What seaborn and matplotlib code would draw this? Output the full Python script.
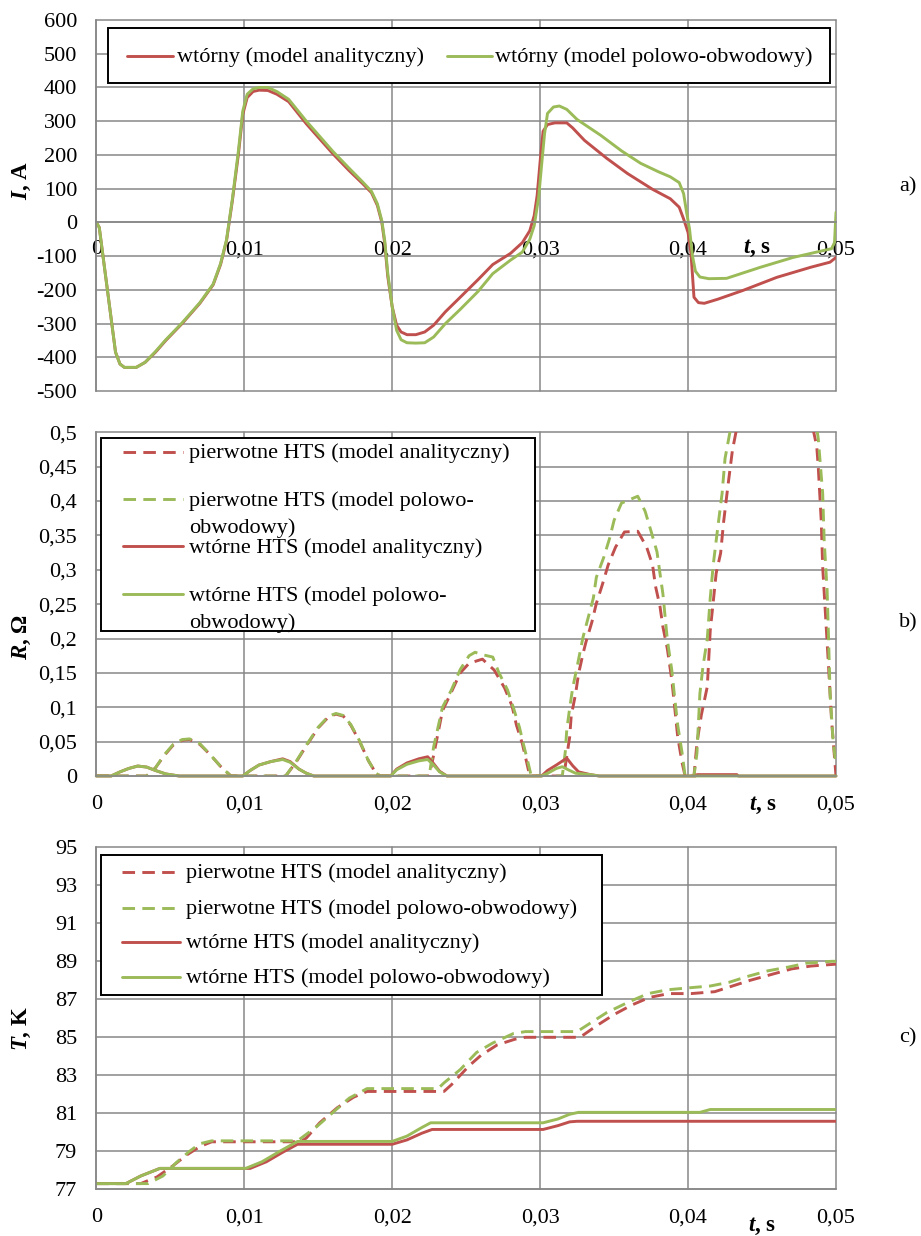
import matplotlib
matplotlib.use("Agg")
import matplotlib.pyplot as plt
from matplotlib.lines import Line2D
from matplotlib.patches import Rectangle
from matplotlib.transforms import Affine2D
import pandas as pd
import seaborn as sns

RED = "#C0504D"
GREEN = "#9BBB59"
GRID = "#878787"

# ---------------------------------------------------------------- axes ticks
t_ticks = [0, 0.01, 0.02, 0.03, 0.04, 0.05]
t_tick_labels = ["0", "0,01", "0,02", "0,03", "0,04", "0,05"]
i_ticks = [-500, -400, -300, -200, -100, 0, 100, 200, 300, 400, 500, 600]
i_tick_labels = ["-500", "-400", "-300", "-200", "-100", "0", "100", "200",
                 "300", "400", "500", "600"]
r_ticks = [0, 0.05, 0.1, 0.15, 0.2, 0.25, 0.3, 0.35, 0.4, 0.45, 0.5]
r_tick_labels = ["0", "0,05", "0,1", "0,15", "0,2", "0,25", "0,3", "0,35",
                 "0,4", "0,45", "0,5"]
temp_ticks = [77, 79, 81, 83, 85, 87, 89, 91, 93, 95]
temp_tick_labels = ["77", "79", "81", "83", "85", "87", "89", "91", "93", "95"]

# ---------------------------------------------------------------- (a) current
t_i_an = [0, 0.0002, 0.0013, 0.0016, 0.0019, 0.0027, 0.0033, 0.0040, 0.0047,
          0.0058, 0.0070, 0.0079, 0.0084, 0.0088, 0.0092, 0.0096, 0.0099,
          0.0102, 0.0106, 0.0110, 0.0116, 0.0122, 0.0130, 0.0142, 0.0160,
          0.0171, 0.0180, 0.0186, 0.0190, 0.0193, 0.0195, 0.0197, 0.0200,
          0.0203, 0.0206, 0.0210, 0.0216, 0.0222, 0.0228, 0.0236, 0.0246,
          0.0258, 0.0268, 0.0280, 0.0288, 0.0293, 0.0296, 0.0298, 0.0300,
          0.0302, 0.0305, 0.0310, 0.0318, 0.0322, 0.0330, 0.0345, 0.0359,
          0.0376, 0.0388, 0.0394, 0.0397, 0.0400, 0.0402, 0.0404, 0.0407,
          0.0411, 0.0420, 0.0437, 0.0460, 0.0483, 0.0496, 0.0500]
i_an = [0, -15, -385, -420, -430, -430, -415, -385, -350,
        -300, -240, -185, -125, -55, 65, 200, 320,
        370, 388, 392, 391, 380, 358, 292, 203,
        153, 115, 88, 50, 0, -63, -160, -250,
        -305, -325, -333, -333, -325, -305, -265, -222,
        -170, -125, -92, -60, -25, 20, 80, 180,
        270, 290, 295, 295, 280, 243, 190, 145,
        98, 70, 45, 10, -30, -93, -222, -238,
        -240, -228, -202, -163, -133, -118, -104]

t_i_fc = [0, 0.0002, 0.0013, 0.0016, 0.0019, 0.0027, 0.0033, 0.0040, 0.0047,
          0.0058, 0.0070, 0.0079, 0.0084, 0.0088, 0.0092, 0.0096, 0.0099,
          0.0102, 0.0106, 0.0110, 0.0116, 0.0122, 0.0130, 0.0142, 0.0160,
          0.0171, 0.0180, 0.0186, 0.0190, 0.0193, 0.0195, 0.0197, 0.0200,
          0.0203, 0.0206, 0.0210, 0.0216, 0.0222, 0.0228, 0.0236, 0.0246,
          0.0258, 0.0268, 0.0280, 0.0288, 0.0293, 0.0296, 0.0299, 0.0301,
          0.0303, 0.0305, 0.0309, 0.0313, 0.0318, 0.0325, 0.0341, 0.0355,
          0.0368, 0.0380, 0.0388, 0.0394, 0.0397, 0.0399, 0.0401, 0.0403,
          0.0405, 0.0408, 0.0414, 0.0426, 0.0449, 0.0471, 0.0489, 0.0497,
          0.0499, 0.0500]
i_fc = [0, -15, -385, -420, -430, -430, -415, -383, -348,
        -298, -238, -183, -122, -52, 70, 210, 330,
        380, 396, 400, 400, 388, 365, 300, 210,
        160, 120, 92, 55, 5, -55, -150, -250,
        -320, -348, -357, -358, -357, -340, -300, -258,
        -205, -152, -112, -88, -50, -10, 74, 170,
        263, 323, 342, 345, 335, 305, 258, 212,
        175, 150, 135, 118, 85, 30, -20, -100,
        -145, -162, -167, -166, -133, -104, -86, -78,
        -60, 30]

# ---------------------------------------------------------------- (b) resistance
t_rp_an = [0, 0.0034, 0.0040, 0.0046, 0.0052, 0.0058, 0.0063, 0.0070, 0.0077,
           0.0084, 0.0091, 0.0128, 0.0135, 0.0142, 0.0150, 0.0157, 0.0162,
           0.0167, 0.0172, 0.0178, 0.0184, 0.0189, 0.0192, 0.0225, 0.0228,
           0.0234, 0.0240, 0.0246, 0.0252, 0.0261, 0.0269, 0.0276, 0.0281,
           0.0284, 0.0288, 0.0291, 0.0293, 0.0316, 0.0320, 0.0321, 0.0324,
           0.0326, 0.0329, 0.0331, 0.0335, 0.0338, 0.0342, 0.0346, 0.0351,
           0.0357, 0.0366, 0.0372, 0.0376, 0.0378, 0.0381, 0.0383, 0.0386,
           0.0389, 0.0391, 0.0393, 0.0396, 0.0398, 0.0404, 0.0406, 0.0409,
           0.0413, 0.0415, 0.0417, 0.0419, 0.0422, 0.0424, 0.0427, 0.0430,
           0.0436, 0.0445, 0.0460, 0.0475, 0.0484, 0.0487, 0.0488, 0.0490,
           0.0491, 0.0493, 0.0495, 0.0497, 0.0500]
rp_an = [0, 0, 0.012, 0.030, 0.045, 0.052, 0.053, 0.046, 0.031,
         0.014, 0, 0, 0.020, 0.044, 0.070, 0.086, 0.090,
         0.087, 0.074, 0.050, 0.022, 0.004, 0, 0, 0.030,
         0.095, 0.122, 0.150, 0.164, 0.170, 0.154, 0.128, 0.102,
         0.074, 0.047, 0.019, 0, 0, 0.057, 0.087, 0.120,
         0.149, 0.178, 0.195, 0.224, 0.251, 0.278, 0.307, 0.333,
         0.355, 0.356, 0.333, 0.307, 0.276, 0.247, 0.217, 0.185,
         0.140, 0.099, 0.057, 0.019, 0, 0, 0.048, 0.089,
         0.130, 0.212, 0.253, 0.295, 0.324, 0.369, 0.423, 0.474,
         0.540, 0.600, 0.620, 0.580, 0.510, 0.479, 0.450, 0.372,
         0.304, 0.231, 0.158, 0.081, 0]

t_rp_fc = [0, 0.0034, 0.0040, 0.0046, 0.0052, 0.0058, 0.0063, 0.0070, 0.0077,
           0.0084, 0.0091, 0.0128, 0.0135, 0.0142, 0.0150, 0.0157, 0.0162,
           0.0167, 0.0172, 0.0178, 0.0184, 0.0189, 0.0192, 0.0225, 0.0228,
           0.0234, 0.0240, 0.0246, 0.0252, 0.0256, 0.0262, 0.0268, 0.0272,
           0.0278, 0.0282, 0.0286, 0.0289, 0.0292, 0.0294, 0.0315, 0.0317,
           0.0318, 0.0320, 0.0322, 0.0325, 0.0329, 0.0336, 0.0338, 0.0343,
           0.0347, 0.0350, 0.0355, 0.0366, 0.0371, 0.0375, 0.0379, 0.0381,
           0.0383, 0.0386, 0.0389, 0.0391, 0.0393, 0.0396, 0.0398, 0.0404,
           0.0406, 0.0408, 0.0410, 0.0413, 0.0415, 0.0417, 0.0420, 0.0423,
           0.0425, 0.0430, 0.0440, 0.0460, 0.0478, 0.0486, 0.0488, 0.0491,
           0.0492, 0.0494, 0.0495, 0.0496, 0.0498, 0.0500]
rp_fc = [0, 0, 0.012, 0.031, 0.046, 0.053, 0.054, 0.047, 0.031,
         0.014, 0, 0, 0.021, 0.045, 0.071, 0.087, 0.091,
         0.088, 0.075, 0.051, 0.022, 0.004, 0, 0, 0.042,
         0.100, 0.125, 0.155, 0.175, 0.180, 0.176, 0.173, 0.151,
         0.125, 0.099, 0.071, 0.044, 0.018, 0, 0, 0.035,
         0.067, 0.099, 0.128, 0.159, 0.202, 0.259, 0.289, 0.318,
         0.346, 0.372, 0.397, 0.407, 0.385, 0.356, 0.326, 0.295,
         0.265, 0.198, 0.154, 0.113, 0.074, 0.033, 0, 0,
         0.033, 0.120, 0.158, 0.200, 0.259, 0.307, 0.360, 0.411,
         0.462, 0.520, 0.600, 0.630, 0.590, 0.520, 0.491, 0.411,
         0.343, 0.270, 0.198, 0.120, 0.052, 0.015]

t_rs_an = [0, 0.0010, 0.0016, 0.0022, 0.0028, 0.0034, 0.0040, 0.0047, 0.0056,
           0.0099, 0.0104, 0.0110, 0.0118, 0.0126, 0.0131, 0.0137, 0.0142,
           0.0147, 0.0199, 0.0203, 0.0210, 0.0218, 0.0224, 0.0228, 0.0232,
           0.0237, 0.0301, 0.0305, 0.0311, 0.0318, 0.0322, 0.0326, 0.0334,
           0.0340, 0.0405, 0.0406, 0.0433, 0.0434, 0.0500]
rs_an = [0, 0, 0.006, 0.011, 0.0145, 0.013, 0.008, 0.003, 0,
         0, 0.008, 0.016, 0.021, 0.025, 0.021, 0.010, 0.004,
         0, 0, 0.010, 0.019, 0.025, 0.028, 0.018, 0.007,
         0, 0, 0.008, 0.016, 0.026, 0.015, 0.006, 0.002,
         0, 0, 0.002, 0.002, 0, 0]

t_rs_fc = [0, 0.0010, 0.0016, 0.0022, 0.0028, 0.0034, 0.0040, 0.0047, 0.0056,
           0.0099, 0.0104, 0.0110, 0.0118, 0.0126, 0.0131, 0.0137, 0.0142,
           0.0147, 0.0199, 0.0203, 0.0210, 0.0218, 0.0224, 0.0228, 0.0232,
           0.0237, 0.0301, 0.0306, 0.0311, 0.0315, 0.0319, 0.0324, 0.0334,
           0.0340, 0.0500]
rs_fc = [0, 0, 0.006, 0.011, 0.0145, 0.013, 0.008, 0.003, 0,
         0, 0.008, 0.016, 0.021, 0.024, 0.020, 0.010, 0.004,
         0, 0, 0.009, 0.017, 0.022, 0.024, 0.016, 0.006,
         0, 0, 0.005, 0.011, 0.0135, 0.009, 0.004, 0.002,
         0, 0]

# ---------------------------------------------------------------- (c) temperature
t_tp_an = [0, 0.0030, 0.0041, 0.0052, 0.0061, 0.0070, 0.0078, 0.0138, 0.0142,
           0.0151, 0.0163, 0.0174, 0.0183, 0.0235, 0.0240, 0.0246, 0.0252,
           0.0260, 0.0271, 0.0283, 0.0290, 0.0327, 0.0338, 0.0350, 0.0362,
           0.0374, 0.0387, 0.0402, 0.0418, 0.0430, 0.0442, 0.0456, 0.0470,
           0.0483, 0.0500]
tp_an = [77.3, 77.3, 77.65, 78.25, 78.8, 79.25, 79.5, 79.5, 79.7,
         80.5, 81.3, 81.85, 82.15, 82.15, 82.5, 83.0, 83.5,
         84.05, 84.6, 84.9, 85.0, 85.0, 85.6, 86.2, 86.7,
         87.1, 87.3, 87.3, 87.4, 87.7, 88.0, 88.3, 88.6,
         88.75, 88.85]

t_tp_fc = [0, 0.0035, 0.0045, 0.0054, 0.0063, 0.0070, 0.0078, 0.0136, 0.0149,
           0.0160, 0.0171, 0.0183, 0.0231, 0.0235, 0.0246, 0.0257, 0.0268,
           0.0282, 0.0290, 0.0325, 0.0335, 0.0345, 0.0361, 0.0373, 0.0386,
           0.0400, 0.0415, 0.0428, 0.0440, 0.0454, 0.0468, 0.0480, 0.0497,
           0.0500]
tp_fc = [77.3, 77.3, 77.7, 78.4, 79.0, 79.4, 79.55, 79.55, 80.3,
         81.05, 81.8, 82.3, 82.3, 82.6, 83.3, 84.2, 84.7,
         85.2, 85.3, 85.3, 85.8, 86.3, 86.9, 87.3, 87.5,
         87.6, 87.7, 87.9, 88.2, 88.5, 88.7, 88.9, 89.0,
         89.0]

t_ts_an = [0, 0.0020, 0.0030, 0.0043, 0.0104, 0.0115, 0.0126, 0.0136, 0.0200,
           0.0210, 0.0220, 0.0227, 0.0302, 0.0312, 0.0320, 0.0325, 0.0500]
ts_an = [77.3, 77.3, 77.7, 78.1, 78.1, 78.45, 78.95, 79.37, 79.37,
         79.6, 79.95, 80.15, 80.15, 80.35, 80.55, 80.58, 80.58]

t_ts_fc = [0, 0.0020, 0.0030, 0.0043, 0.0101, 0.0112, 0.0124, 0.0136, 0.0200,
           0.0210, 0.0220, 0.0226, 0.0302, 0.0312, 0.0320, 0.0326, 0.0408,
           0.0415, 0.0500]
ts_fc = [77.3, 77.3, 77.7, 78.1, 78.1, 78.45, 79.0, 79.52, 79.52,
         79.8, 80.25, 80.5, 80.5, 80.7, 80.95, 81.05, 81.05,
         81.2, 81.2]

# ---------------------------------------------------------------- labels
LAB_SEC_AN = "wtórny (model analityczny)"
LAB_SEC_FC = "wtórny (model polowo-obwodowy)"
LAB_P_AN = "pierwotne HTS (model analityczny)"
LAB_P_FC = "pierwotne HTS (model polowo-obwodowy)"
LAB_S_AN = "wtórne HTS (model analityczny)"
LAB_S_FC = "wtórne HTS (model polowo-obwodowy)"

# ---------------------------------------------------------------- style
sns.set_style("white")
plt.rcParams.update({
    "font.family": ["Liberation Serif", "DejaVu Serif"],
    "mathtext.fontset": "custom",
    "mathtext.it": "Liberation Serif:italic:bold",
    "mathtext.rm": "Liberation Serif:bold",
    "mathtext.bf": "Liberation Serif:bold",
    "text.color": "black",
})

W, H, DPI = 921, 1236, 100
LW = 2.1
DASH = (4.3, 2.5)
FS = 16

fig = plt.figure(figsize=(W / DPI, H / DPI), dpi=DPI, facecolor="white")
# pixel coordinates measured from the top-left corner of the figure
PIX = Affine2D().scale(1 / DPI, -1 / DPI).translate(0, H / DPI) + fig.dpi_scale_trans


def add_axes_px(x0, y0, x1, y1):
    return fig.add_axes([x0 / W, 1 - y1 / H, (x1 - x0) / W, (y1 - y0) / H])


def frame(names, ts, vs):
    return pd.concat(
        [pd.DataFrame({"t": t, "v": v, "seria": n}) for n, t, v in zip(names, ts, vs)],
        ignore_index=True)


def style_axes(ax, yticks, ylabels, ylim):
    ax.set_xlim(0, 0.05)
    ax.set_ylim(*ylim)
    ax.set_xticks(t_ticks, t_tick_labels)
    ax.set_yticks(yticks, ylabels)
    ax.set_axisbelow(True)
    ax.grid(True, color=GRID, lw=1.1, clip_on=False)
    ax.set_xlabel("")
    ax.set_ylabel("")
    for s in ("top", "right"):
        ax.spines[s].set_visible(False)
    for s in ("left", "bottom"):
        ax.spines[s].set_color(GRID)
        ax.spines[s].set_linewidth(1.1)
    ax.tick_params(direction="out", length=4.3, width=1.1, color=GRID,
                   labelsize=FS, pad=9.5, labelcolor="black")


def key_box(box):
    x0, y0, x1, y1 = box
    fig.add_artist(Rectangle((x0, y0), x1 - x0, y1 - y0, transform=PIX,
                             facecolor="white", edgecolor="black", lw=1.4, zorder=5))


def key_entry(color, dashed, hx0, hx1, hy, tx, lines):
    ls = (0, DASH) if dashed else "-"
    fig.add_artist(Line2D([hx0, hx1], [hy, hy], transform=PIX, color=color,
                          lw=LW, linestyle=ls, zorder=6))
    for txt, ty in lines:
        fig.text(tx, ty + 6, txt, transform=PIX, ha="left", va="baseline",
                 fontsize=FS, zorder=7)


# ---------------------------------------------------------------- (a)
ax_a = add_axes_px(96.3, 20, 836, 391)
df_a = frame([LAB_SEC_AN, LAB_SEC_FC], [t_i_an, t_i_fc], [i_an, i_fc])
sns.lineplot(data=df_a, x="t", y="v", hue="seria", palette=[RED, GREEN],
             estimator=None, sort=False, lw=LW, legend=False, ax=ax_a)
style_axes(ax_a, i_ticks, i_tick_labels, (-500, 600))
ax_a.spines["bottom"].set_position(("data", 0))
ax_a.tick_params(axis="x", pad=8.5)

# ---------------------------------------------------------------- (b)
ax_b = add_axes_px(96.3, 432.3, 836, 776)
df_bp = frame([LAB_P_AN, LAB_P_FC], [t_rp_an, t_rp_fc], [rp_an, rp_fc])
sns.lineplot(data=df_bp, x="t", y="v", hue="seria", palette=[RED, GREEN],
             estimator=None, sort=False, lw=LW, linestyle=(0, DASH),
             legend=False, ax=ax_b)
df_bs = frame([LAB_S_AN, LAB_S_FC], [t_rs_an, t_rs_fc], [rs_an, rs_fc])
sns.lineplot(data=df_bs, x="t", y="v", hue="seria", palette=[RED, GREEN],
             estimator=None, sort=False, lw=LW, clip_on=False,
             legend=False, ax=ax_b)
style_axes(ax_b, r_ticks, r_tick_labels, (0, 0.5))

# ---------------------------------------------------------------- (c)
ax_c = add_axes_px(96.3, 847.3, 836, 1189.3)
df_c = frame([LAB_P_AN, LAB_P_FC, LAB_S_AN, LAB_S_FC],
             [t_tp_an, t_tp_fc, t_ts_an, t_ts_fc], [tp_an, tp_fc, ts_an, ts_fc])
sns.lineplot(data=df_c, x="t", y="v", hue="seria", style="seria",
             palette=[RED, GREEN, RED, GREEN],
             dashes={LAB_P_AN: DASH, LAB_P_FC: DASH, LAB_S_AN: "", LAB_S_FC: ""},
             estimator=None, sort=False, lw=LW, legend=False, ax=ax_c)
style_axes(ax_c, temp_ticks, temp_tick_labels, (77, 95))

# ---------------------------------------------------------------- keys
key_box((108, 28, 830, 83))
key_entry(RED, False, 127, 173, 56, 177, [(LAB_SEC_AN, 56)])
key_entry(GREEN, False, 447, 492, 56, 495, [(LAB_SEC_FC, 56)])

key_box((101, 438, 535, 631))
key_entry(RED, True, 123, 183, 452, 189, [(LAB_P_AN, 452)])
key_entry(GREEN, True, 123, 183, 499, 189,
          [("pierwotne HTS (model polowo-", 500), ("obwodowy)", 527)])
key_entry(RED, False, 123, 183, 546, 189, [(LAB_S_AN, 547)])
key_entry(GREEN, False, 123, 183, 594, 189,
          [("wtórne HTS (model polowo-", 595), ("obwodowy)", 622)])

key_box((101, 855, 602, 995))
key_entry(RED, True, 122, 180, 872, 186, [(LAB_P_AN, 872)])
key_entry(GREEN, True, 122, 180, 908, 186, [(LAB_P_FC, 908)])
key_entry(RED, False, 122, 180, 942, 186, [(LAB_S_AN, 942)])
key_entry(GREEN, False, 122, 180, 977, 186, [(LAB_S_FC, 977)])

# ---------------------------------------------------------------- axis titles
for txt, y in ((r"$I$, A", 181), (r"$R$, Ω", 637), (r"$T$, K", 1029)):
    fig.text(22, y, txt, transform=PIX, rotation=90, ha="center", va="center",
             fontsize=16.5, fontweight="bold")
for x, y in ((757, 248), (763, 805), (762, 1226)):
    fig.text(x, y, r"$t$, s", transform=PIX, ha="center", va="center",
             fontsize=16.5, fontweight="bold")
for txt, y in (("a)", 187), ("b)", 623), ("c)", 1038)):
    fig.text(908, y, txt, transform=PIX, ha="center", va="center", fontsize=FS)

fig.savefig("out.png", dpi=DPI, facecolor="white")
